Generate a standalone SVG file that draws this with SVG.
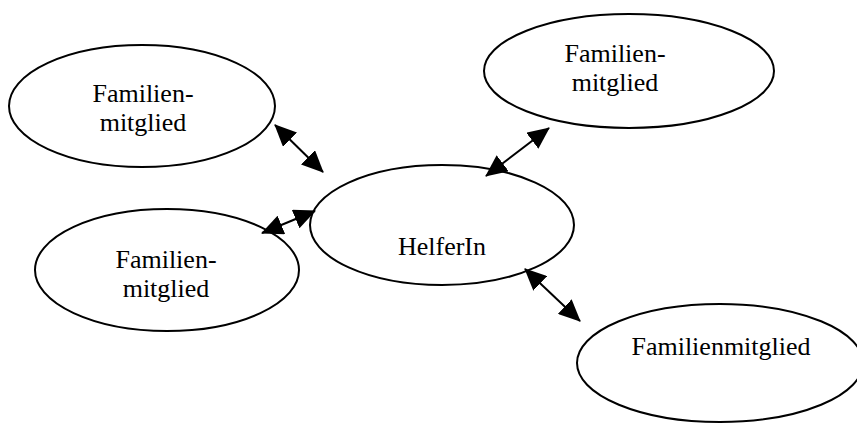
<svg xmlns="http://www.w3.org/2000/svg" width="857" height="424" viewBox="0 0 857 424">
<style>
.node ellipse{fill:#fff;stroke:#000;stroke-width:2}
.node text{font-family:"Liberation Serif","Times New Roman",serif;font-size:26px;fill:#000;text-anchor:middle}
.conn line{stroke:#000;stroke-width:2;marker-start:url(#ah);marker-end:url(#ah)}
</style>
<defs>
<marker id="ah" markerUnits="userSpaceOnUse" markerWidth="22" markerHeight="20" refX="21" refY="10" orient="auto-start-reverse" viewBox="0 0 22 20">
<path d="M0,0 L22,10 L0,20 Z" fill="#000"/>
</marker>
</defs>
<rect width="857" height="424" fill="#fff"/>
<g id="n-topleft" class="node">
<ellipse cx="142" cy="106" rx="133" ry="61"/>
<text x="143" y="102">Familien-</text>
<text x="143" y="131">mitglied</text>
</g>
<g id="n-topright" class="node">
<ellipse cx="629" cy="71" rx="145" ry="57"/>
<text x="615" y="62">Familien-</text>
<text x="615" y="91">mitglied</text>
</g>
<g id="n-left" class="node">
<ellipse cx="167" cy="270" rx="132" ry="61"/>
<text x="166" y="268">Familien-</text>
<text x="166" y="297">mitglied</text>
</g>
<g id="n-helfer" class="node">
<ellipse cx="442" cy="225" rx="132" ry="60"/>
<text x="442" y="255">HelferIn</text>
</g>
<g id="n-bottomright" class="node">
<ellipse cx="720" cy="363" rx="143" ry="59"/>
<text x="721" y="355">Familienmitglied</text>
</g>
<g id="connectors" class="conn">
<line x1="275" y1="125" x2="323" y2="172"/>
<line x1="262" y1="233" x2="315" y2="211"/>
<line x1="549" y1="128" x2="486" y2="176"/>
<line x1="525" y1="269" x2="580" y2="321"/>
</g>
</svg>
